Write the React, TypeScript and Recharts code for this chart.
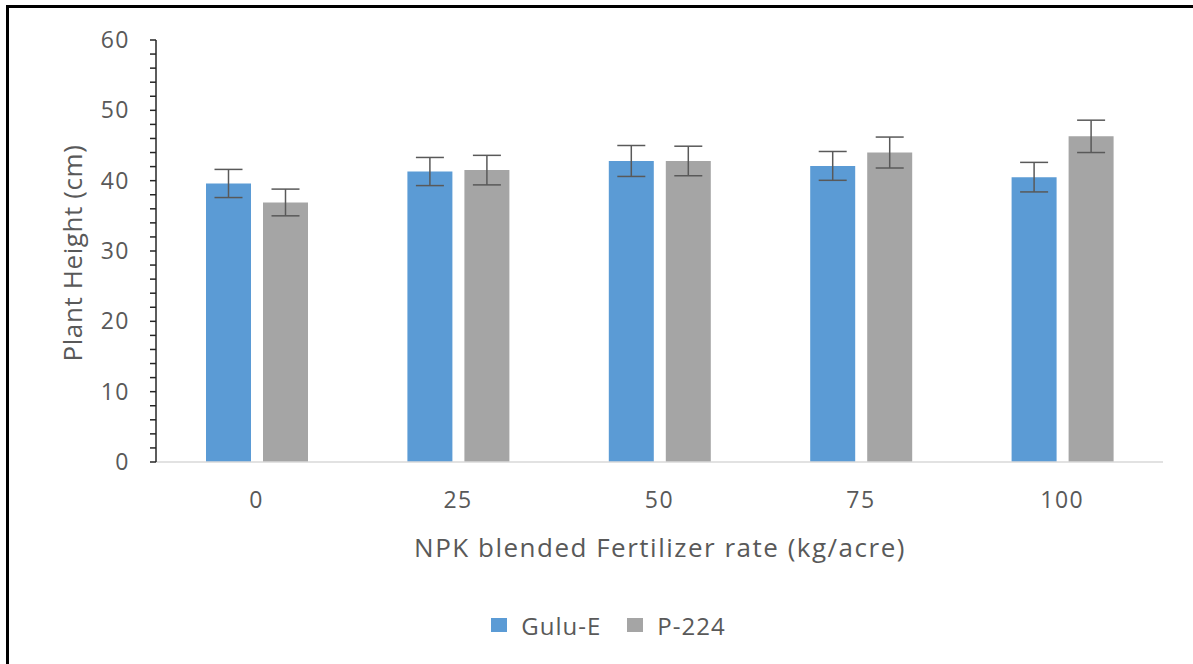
import React from 'react';
import { BarChart, Bar, XAxis, YAxis, ErrorBar, Legend } from 'recharts';

const rates = ['0', '25', '50', '75', '100'];
const guluE = [39.6, 41.3, 42.8, 42.1, 40.5];
const guluEErr = [2.0, 2.0, 2.2, 2.05, 2.1];
const p224 = [36.9, 41.5, 42.8, 44.0, 46.3];
const p224Err = [1.9, 2.1, 2.1, 2.2, 2.3];
const yTicks = [0, 2, 4, 6, 8, 10, 12, 14, 16, 18, 20, 22, 24, 26, 28, 30, 32, 34, 36, 38, 40, 42, 44, 46, 48, 50, 52, 54, 56, 58, 60];

const FONT = '"Open Sans", sans-serif';
const TEXT = '#595959';

const chartData = rates.map((r, i) => ({
  rate: r,
  gulu: guluE[i],
  guluErr: guluEErr[i],
  p224: p224[i],
  p224Err: p224Err[i],
}));

const LegendContent = (props: any) => {
  const items = props.payload || [];
  return (
    <div style={{ display: 'flex', justifyContent: 'center', alignItems: 'center', height: 30, paddingLeft: 54, fontFamily: FONT, fontSize: 24, letterSpacing: 1, color: TEXT }}>
      {items.map((it: any) => (
        <div key={it.value} style={{ display: 'flex', alignItems: 'center', margin: '0 13px' }}>
          <span style={{ width: 16, height: 14, background: it.color, display: 'inline-block', marginRight: 14 }} />
          <span>{it.value}</span>
        </div>
      ))}
    </div>
  );
};

const tickStyle = { fill: TEXT, fontSize: 23, fontFamily: FONT, letterSpacing: 1.5 };

const App = () => {
  return (
    <div style={{ position: 'absolute', left: 0, top: 0, width: 1193, height: 664, background: '#fff' }}>
      <div style={{ position: 'absolute', left: 6, top: 5, right: 0, bottom: 0, borderTop: '3px solid #000', borderLeft: '3px solid #000' }} />
      <BarChart
        width={1193}
        height={664}
        data={chartData}
        margin={{ top: 40, right: 30, bottom: 24, left: 0 }}
        barSize={45}
        barGap={12}
      >
        <XAxis
          dataKey="rate"
          height={148}
          tickLine={false}
          axisLine={{ stroke: '#d9d9d9', strokeWidth: 1.5 }}
          tick={tickStyle}
          tickMargin={24}
          label={() => (
            <text x={660} y={547} textAnchor="middle" dominantBaseline="central" fill={TEXT} fontSize={26} letterSpacing={1.5} fontFamily={FONT}>
              NPK blended Fertilizer rate (kg/acre)
            </text>
          )}
        />
        <YAxis
          width={156}
          domain={[0, 60]}
          ticks={yTicks}
          interval={0}
          tickSize={6}
          tickMargin={20}
          tickLine={{ stroke: '#262626', strokeWidth: 1.5 }}
          axisLine={{ stroke: '#262626', strokeWidth: 1.5 }}
          tick={tickStyle}
          tickFormatter={(v: number) => (v % 10 === 0 ? String(v) : '')}
          label={() => (
            <text x={72} y={253} transform="rotate(-90 72 253)" textAnchor="middle" dominantBaseline="central" fill={TEXT} fontSize={26} letterSpacing={0.6} fontFamily={FONT}>
              Plant Height (cm)
            </text>
          )}
        />
        <Legend content={<LegendContent />} verticalAlign="bottom" />
        <Bar dataKey="gulu" name="Gulu-E" fill="#5B9BD5" isAnimationActive={false}>
          <ErrorBar dataKey="guluErr" width={14} stroke="#595959" strokeWidth={1.5} direction="y" isAnimationActive={false} />
        </Bar>
        <Bar dataKey="p224" name="P-224" fill="#A5A5A5" isAnimationActive={false}>
          <ErrorBar dataKey="p224Err" width={14} stroke="#595959" strokeWidth={1.5} direction="y" isAnimationActive={false} />
        </Bar>
      </BarChart>
    </div>
  );
};

export default App;
